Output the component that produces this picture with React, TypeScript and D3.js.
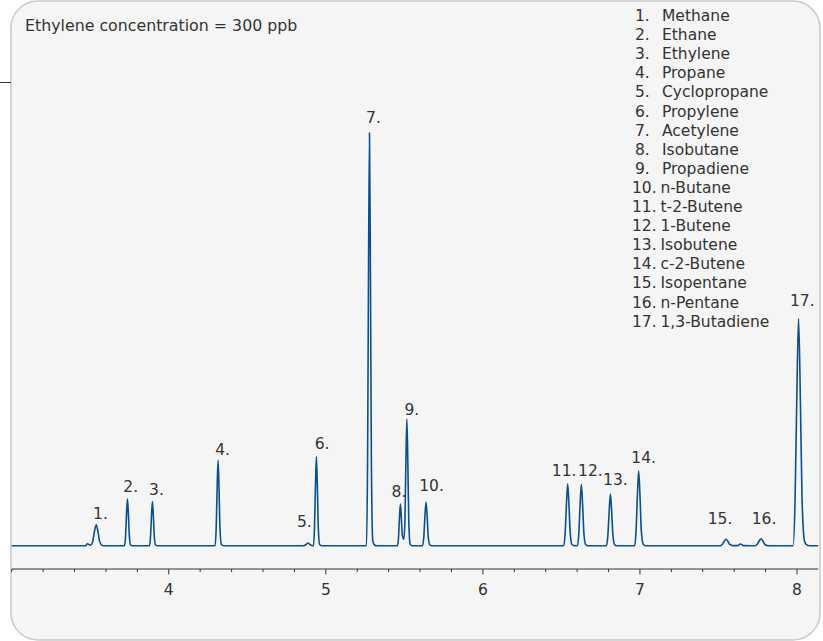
import React from "react";
import * as d3 from "d3";

// ---- data ----
const compoundNames = [
  "Methane", "Ethane", "Ethylene", "Propane", "Cyclopropane", "Propylene",
  "Acetylene", "Isobutane", "Propadiene", "n-Butane", "t-2-Butene", "1-Butene",
  "Isobutene", "c-2-Butene", "Isopentane", "n-Pentane", "1,3-Butadiene",
];
// retention time (min) and apex signal (relative) of each numbered peak
const peakTimes = [3.538, 3.737, 3.896, 4.314, 4.887, 4.94, 5.278, 5.475, 5.516, 5.638, 6.54, 6.627, 6.812, 6.992, 7.548, 7.771, 8.01];
const peakHeights = [5.1, 11.4, 10.7, 20.7, 0.65, 21.6, 100, 10.1, 30.7, 10.6, 15, 14.9, 12.5, 18.1, 1.6, 1.7, 55];

// chromatogram trace: [time (min), signal]
const chromatogram: [number, number][] = [
  [3.0, 0], [3.47, 0], [3.482, 0.5], [3.492, 0.3], [3.503, 0.15], [3.516, 1.07], [3.526, 3.26], [3.538, 5.1], [3.55, 3.26], [3.56, 1.07], [3.576, 0.1], [3.59, 0],
  [3.718, 0], [3.725, 2.4], [3.7306, 7.3], [3.737, 11.4], [3.7434, 7.3], [3.749, 2.4], [3.758, 0.15], [3.77, 0],
  [3.877, 0], [3.884, 2.25], [3.8896, 6.85], [3.896, 10.7], [3.9024, 6.85], [3.908, 2.25], [3.917, 0.15], [3.93, 0],
  [4.295, 0], [4.302, 4.35], [4.3076, 13.25], [4.314, 20.7], [4.3204, 13.25], [4.326, 4.35], [4.335, 0.3], [4.35, 0],
  [4.857, 0], [4.868, 0.14], [4.877, 0.42], [4.887, 0.65], [4.897, 0.42], [4.906, 0.14], [4.914, 0.05],
  [4.921, 0], [4.928, 4.5], [4.9336, 13.8], [4.94, 21.6], [4.9464, 13.8], [4.952, 4.5], [4.961, 0.3], [4.975, 0],
  [5.259, 0], [5.266, 21], [5.2716, 64], [5.278, 100], [5.2844, 64], [5.29, 21], [5.299, 1.2], [5.31, 0.2], [5.325, 0],
  [5.456, 0], [5.463, 2.1], [5.4686, 6.5], [5.475, 10.1], [5.4814, 6.5], [5.487, 2.6], [5.497, 1.6], [5.504, 6.45], [5.5096, 19.65], [5.516, 30.7], [5.5224, 19.65], [5.528, 6.4], [5.537, 0.4], [5.55, 0],
  [5.615, 0], [5.624, 2.2], [5.6304, 6.8], [5.638, 10.6], [5.6456, 6.8], [5.652, 2.2], [5.663, 0.2], [5.675, 0],
  [6.515, 0], [6.524, 3.15], [6.5316, 9.6], [6.54, 15], [6.5484, 9.6], [6.556, 3.15], [6.567, 0.3], [6.58, 0.05],
  [6.602, 0], [6.611, 3.1], [6.6186, 9.55], [6.627, 14.9], [6.6354, 9.55], [6.643, 3.1], [6.654, 0.3], [6.668, 0],
  [6.787, 0], [6.796, 2.6], [6.8036, 8], [6.812, 12.5], [6.8204, 8], [6.828, 2.6], [6.839, 0.25], [6.852, 0],
  [6.966, 0], [6.9755, 3.8], [6.9832, 11.6], [6.992, 18.1], [7.0008, 11.6], [7.0085, 3.8], [7.021, 0.35], [7.035, 0],
  [7.51, 0], [7.524, 0.34], [7.535, 1.02], [7.548, 1.6], [7.561, 1.02], [7.572, 0.34], [7.59, 0.05], [7.62, 0.05], [7.64, 0.45], [7.66, 0.05],
  [7.733, 0], [7.747, 0.36], [7.758, 1.09], [7.771, 1.7], [7.784, 1.09], [7.795, 0.36], [7.813, 0.05], [7.83, 0],
  [7.975, 0], [7.988, 11.55], [7.9984, 35.2], [8.01, 55], [8.0216, 35.2], [8.032, 11.55], [8.048, 1.1], [8.06, 0.3], [8.08, 0], [8.135, 0],
];

const majorTicks = [4, 5, 6, 7, 8];
const minorTicks = [3.0, 3.2, 3.4, 3.6, 3.8, 4.2, 4.4, 4.6, 4.8, 5.2, 5.4, 5.6, 5.8, 6.2, 6.4, 6.6, 6.8, 7.2, 7.4, 7.6, 7.8];
const titleText = "Ethylene concentration = 300 ppb";

// ---- layout (pixel offsets of the peak labels from each apex) ----
const labelOffsets: [number, number][] = [
  [4.3, -6], [3.3, -7], [4, -6.7], [4.5, -5.7], [-3.7, -16], [5.7, -7.4], [4, -10], [-1.4, -7],
  [5, -4.3], [5.5, -11.3], [-3.5, -8.3], [9, -8.6], [5, -9.3], [5, -8], [-6, -15], [3, -14.7], [3.7, -12.3],
];

const W = 823;
const H = 641;
const FONT = "'DejaVu Sans', Verdana, sans-serif";
const TEXT = "#333333";
const LINE = "#0b4f8c";
const FS = 15.5;

export default function App() {
  const x = d3.scaleLinear().domain([3, 8.135]).range([11.7, 818.2]);
  const y = d3.scaleLinear().domain([0, 100]).range([545.8, 132.7]);
  const axisY = 569;

  const line = d3
    .line<[number, number]>()
    .x((d) => x(d[0]))
    .y((d) => y(d[1]))
    .curve(d3.curveMonotoneX);

  return (
    <svg
      width={W}
      height={H}
      style={{ position: "absolute", left: 0, top: 0, display: "block" }}
      fontFamily={FONT}
    >
      <rect x={0} y={0} width={W} height={H} fill="#ffffff" />
      <rect x={11} y={1} width={809} height={639} rx={27} ry={27} fill="#f5f5f5" stroke="#c9c9c9" strokeWidth={1.5} />
      <line x1={0} x2={11} y1={82.5} y2={82.5} stroke="#333" strokeWidth={1} />

      <text x={25} y={31} fontSize={15.8} fill={TEXT}>{titleText}</text>

      {/* legend */}
      {compoundNames.map((name, i) => {
        const yy = 21 + i * 19.1;
        const two = i >= 9;
        return (
          <g key={name}>
            <text x={two ? 632 : 635} y={yy} fontSize={FS} fill={TEXT}>{`${i + 1}.`}</text>
            <text x={two ? 660.5 : 662} y={yy} fontSize={FS} fill={TEXT}>{name}</text>
          </g>
        );
      })}

      {/* axis */}
      <line x1={x(3)} x2={x(8.135)} y1={axisY} y2={axisY} stroke="#333" strokeWidth={1} />
      {minorTicks.map((t) => (
        <line key={`m${t}`} x1={x(t)} x2={x(t)} y1={axisY} y2={axisY + 3} stroke="#333" strokeWidth={1} />
      ))}
      {majorTicks.map((t) => (
        <g key={`M${t}`}>
          <line x1={x(t)} x2={x(t)} y1={axisY} y2={axisY + 5.5} stroke="#333" strokeWidth={1} />
          <text x={x(t)} y={594.5} fontSize={FS} fill={TEXT} textAnchor="middle">{t}</text>
        </g>
      ))}

      {/* trace */}
      <path d={line(chromatogram) || ""} fill="none" stroke={LINE} strokeWidth={1.6} strokeLinejoin="round" />

      {/* peak labels */}
      {peakTimes.map((t, i) => (
        <text
          key={`l${i}`}
          x={x(t) + labelOffsets[i][0]}
          y={y(peakHeights[i]) + labelOffsets[i][1]}
          fontSize={FS}
          fill={TEXT}
          textAnchor="middle"
        >
          {`${i + 1}.`}
        </text>
      ))}
    </svg>
  );
}
